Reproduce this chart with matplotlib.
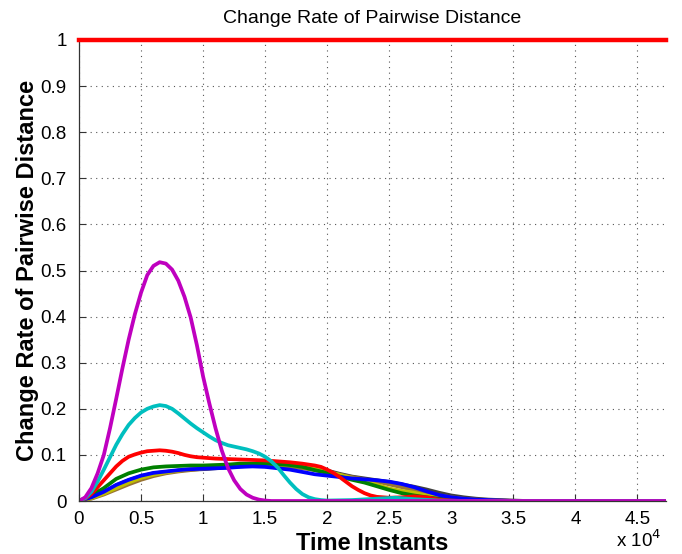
import matplotlib
matplotlib.use('Agg')
import matplotlib.pyplot as plt
from matplotlib.ticker import FuncFormatter

plt.rcParams['font.family'] = ['Liberation Sans', 'DejaVu Sans']

# time instants in units of 1e4
t = [0.0, 0.1, 0.2, 0.3, 0.4, 0.5, 0.6, 0.7, 0.8, 0.9,
     1.0, 1.1, 1.2, 1.3, 1.4, 1.5, 1.6, 1.7, 1.8, 1.9,
     2.0, 2.1, 2.2, 2.3, 2.4, 2.5, 2.6, 2.7, 2.8, 2.9,
     3.0, 3.1, 3.2, 3.3, 3.4, 3.5, 3.6, 4.73]

black = [0, 0.007, 0.019, 0.034, 0.045, 0.054, 0.060, 0.063, 0.066, 0.068,
         0.069, 0.071, 0.073, 0.075, 0.077, 0.078, 0.079, 0.079, 0.077, 0.073,
         0.066, 0.059, 0.053, 0.049, 0.045, 0.041, 0.036, 0.031, 0.025, 0.018,
         0.012, 0.008, 0.005, 0.003, 0.002, 0.001, 0, 0]
brown = [0, 0.005, 0.014, 0.025, 0.036, 0.046, 0.054, 0.060, 0.064, 0.067,
         0.070, 0.072, 0.074, 0.076, 0.077, 0.077, 0.076, 0.074, 0.071, 0.067,
         0.062, 0.057, 0.052, 0.047, 0.042, 0.036, 0.030, 0.024, 0.018, 0.012,
         0.008, 0.005, 0.003, 0.002, 0.001, 0, 0, 0]
yellow = [0, 0.006, 0.016, 0.028, 0.040, 0.050, 0.057, 0.062, 0.066, 0.069,
          0.071, 0.073, 0.075, 0.077, 0.078, 0.079, 0.079, 0.078, 0.075, 0.070,
          0.064, 0.057, 0.050, 0.043, 0.035, 0.027, 0.022, 0.018, 0.012, 0.007,
          0.004, 0.002, 0.001, 0, 0, 0, 0, 0]
green = [0, 0.012, 0.028, 0.048, 0.060, 0.068, 0.073, 0.075, 0.076, 0.077,
         0.077, 0.078, 0.079, 0.081, 0.081, 0.081, 0.080, 0.078, 0.074, 0.067,
         0.061, 0.053, 0.046, 0.040, 0.032, 0.024, 0.017, 0.012, 0.008, 0.005,
         0.003, 0.002, 0.001, 0, 0, 0, 0, 0]
blue = [0, 0.008, 0.020, 0.035, 0.046, 0.055, 0.061, 0.064, 0.067, 0.069,
        0.070, 0.071, 0.072, 0.074, 0.075, 0.074, 0.071, 0.068, 0.063, 0.058,
        0.055, 0.052, 0.049, 0.047, 0.045, 0.042, 0.037, 0.030, 0.021, 0.013,
        0.008, 0.005, 0.003, 0.002, 0.001, 0, 0, 0]

# the three sharper curves are read at a finer step
t_red = [0.0, 0.05, 0.1, 0.15, 0.2, 0.25, 0.3, 0.35, 0.4, 0.45,
         0.5, 0.55, 0.6, 0.65, 0.7, 0.75, 0.8, 0.85, 0.9, 0.95,
         1.0, 1.1, 1.2, 1.3, 1.4, 1.5, 1.6, 1.7, 1.8, 1.9,
         1.95, 2.0, 2.05, 2.1, 2.15, 2.2, 2.25, 2.3, 2.35, 2.4,
         2.5, 2.6, 2.7, 2.8, 2.9, 3.0, 3.1, 4.73]
red = [0, 0.005, 0.015, 0.030, 0.045, 0.060, 0.075, 0.087, 0.096, 0.101,
       0.105, 0.108, 0.109, 0.110, 0.109, 0.107, 0.104, 0.100, 0.097, 0.095,
       0.094, 0.092, 0.091, 0.090, 0.089, 0.088, 0.086, 0.084, 0.081, 0.077,
       0.074, 0.068, 0.061, 0.052, 0.042, 0.032, 0.024, 0.017, 0.012, 0.009,
       0.007, 0.008, 0.010, 0.008, 0.003, 0.001, 0, 0]

t_cyan = [0.0, 0.05, 0.1, 0.15, 0.2, 0.25, 0.3, 0.35, 0.4, 0.45,
          0.5, 0.55, 0.6, 0.65, 0.7, 0.75, 0.8, 0.85, 0.9, 0.95,
          1.0, 1.05, 1.1, 1.15, 1.2, 1.25, 1.3, 1.35, 1.4, 1.45,
          1.5, 1.55, 1.6, 1.65, 1.7, 1.75, 1.8, 1.85, 1.9, 1.95,
          2.0, 2.2, 2.4, 2.55, 2.7, 2.9, 3.1, 4.73]
cyan = [0, 0.006, 0.020, 0.042, 0.068, 0.095, 0.122, 0.145, 0.165, 0.180,
        0.192, 0.200, 0.205, 0.208, 0.206, 0.200, 0.190, 0.179, 0.168, 0.158,
        0.149, 0.140, 0.132, 0.126, 0.121, 0.118, 0.115, 0.112, 0.108, 0.103,
        0.096, 0.086, 0.073, 0.056, 0.040, 0.026, 0.015, 0.008, 0.004, 0.002,
        0.001, 0.002, 0.005, 0.007, 0.004, 0.001, 0, 0]

t_magenta = [0.0, 0.05, 0.1, 0.15, 0.2, 0.25, 0.3, 0.35, 0.4, 0.45,
             0.5, 0.55, 0.6, 0.65, 0.7, 0.75, 0.8, 0.85, 0.9, 0.95,
             1.0, 1.05, 1.1, 1.15, 1.2, 1.25, 1.3, 1.35, 1.4, 1.45,
             1.5, 1.55, 4.73]
magenta = [0, 0.008, 0.028, 0.060, 0.100, 0.158, 0.222, 0.288, 0.350, 0.405,
           0.452, 0.490, 0.510, 0.518, 0.515, 0.502, 0.478, 0.443, 0.398, 0.338,
           0.270, 0.212, 0.158, 0.110, 0.072, 0.045, 0.026, 0.014, 0.007, 0.003,
           0.001, 0, 0]

top_level = 1.0

series = [
    (t, black, (0.25, 0.25, 0.25)),
    (t, brown, (0.6, 0.45, 0.2)),
    (t, yellow, (0.75, 0.75, 0.0)),
    (t, green, (0.0, 0.5, 0.0)),
    (t, blue, (0.0, 0.0, 1.0)),
    (t_red, red, (1.0, 0.0, 0.0)),
    (t_cyan, cyan, (0.0, 0.75, 0.75)),
    (t_magenta, magenta, (0.75, 0.0, 0.75)),
]

fig = plt.figure(figsize=(6.82, 5.54), dpi=100)
ax = fig.add_axes([79 / 682, 53 / 554, 587 / 682, 461 / 554])

for tt, vals, col in series:
    ax.plot([v * 1e4 for v in tt], vals, color=col, linewidth=2.7,
            solid_joinstyle='round', solid_capstyle='round')
ax.axhline(top_level, color='red', linewidth=3.2, clip_on=False, zorder=5)

ax.set_xlim(0, 47300)
ax.set_ylim(0, 1)
ax.set_xticks([i * 5000 for i in range(10)])
ax.set_yticks([i / 10 for i in range(11)])
ax.xaxis.set_major_formatter(FuncFormatter(lambda v, p: f'{v / 1e4:g}'))
ax.yaxis.set_major_formatter(FuncFormatter(lambda v, p: f'{v:g}'))
ax.tick_params(direction='in', length=5, width=0.8, labelsize=13.5, color='#333333')
ax.tick_params(axis='y', pad=9)
ax.tick_params(axis='x', pad=7)

ax.grid(True, linestyle=(0, (1, 4)), color='#555555', linewidth=0.8)
ax.spines['top'].set_visible(False)
ax.spines['right'].set_visible(False)
for s in ('left', 'bottom'):
    ax.spines[s].set_color('#333333')
    ax.spines[s].set_linewidth(0.9)

ax.set_title('Change Rate of Pairwise Distance', fontsize=14, pad=12)
ax.set_ylabel('Change Rate of Pairwise Distance', fontsize=17, fontweight='bold', labelpad=1)
ax.set_xlabel('Time Instants', fontsize=17, fontweight='bold', labelpad=3)
fig.text(661 / 682, 1 - 547 / 554, r'x 10$^4$', fontsize=13.5, ha='right', va='baseline')

fig.savefig('out.png', dpi=100)
